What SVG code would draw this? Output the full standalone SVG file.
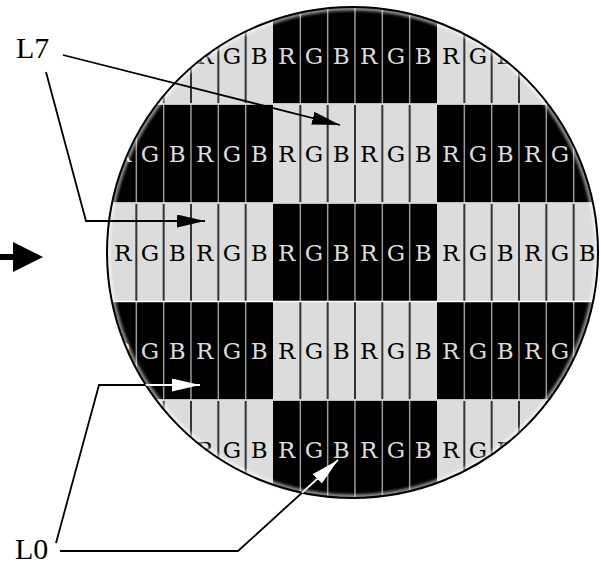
<svg xmlns="http://www.w3.org/2000/svg" width="601" height="567" viewBox="0 0 601 567">
  <style>
    .lt { fill: #dcdcdc; }
    .sepL { stroke: #333; stroke-width: 2; fill: none; }
    .sepD { stroke: #9a9a9a; stroke-width: 1.5; fill: none; }
    .gap { stroke: #fff; stroke-width: 1.3; }
    .cb { font-family: "DejaVu Serif", "Liberation Serif", serif; font-size: 23px; text-anchor: middle; }
    .onL { fill: #000; }
    .onD { fill: #dcdcdc; }
    .lbl { font-family: "Liberation Serif", "Times New Roman", serif; font-size: 30px; fill: #000; }
    .conn { stroke: #000; stroke-width: 1.8; fill: none; }
    .connW { stroke: #fff; stroke-width: 1.8; fill: none; }
  </style>
  <defs>
    <clipPath id="disk"><circle cx="352.5" cy="252.5" r="245.5"/></clipPath>
    <marker id="ahB" markerUnits="userSpaceOnUse" markerWidth="30" markerHeight="14" refX="28" refY="6.5" orient="auto">
      <path d="M0,0 L28,6.5 L0,13 Z" fill="#000"/>
    </marker>
    <marker id="ahW" markerUnits="userSpaceOnUse" markerWidth="30" markerHeight="14" refX="28" refY="6.5" orient="auto">
      <path d="M0,0 L28,6.5 L0,13 Z" fill="#fff"/>
    </marker>
    <filter id="soft" x="-10%" y="-10%" width="120%" height="120%">
      <feGaussianBlur stdDeviation="1.8"/>
    </filter>
  </defs>

  <rect width="601" height="567" fill="#fff"/>

  <g id="wafer">
    <g clip-path="url(#disk)">
      <rect x="100" y="0" width="501" height="500" fill="#000"/>
      <rect class="lt" x="100" y="0" width="173" height="103.5"/>
      <rect class="lt" x="437" y="0" width="164" height="103.5"/>
      <rect class="lt" x="273" y="104.5" width="164" height="98"/>
      <rect class="lt" x="100" y="203.5" width="173" height="97.5"/>
      <rect class="lt" x="437" y="203.5" width="164" height="97.5"/>
      <rect class="lt" x="273" y="302" width="164" height="97.5"/>
      <rect class="lt" x="100" y="400.5" width="173" height="100"/>
      <rect class="lt" x="437" y="400.5" width="164" height="100"/>

      <path class="sepL" d="M136.33,0V103.5M163.67,0V103.5M191,0V103.5M218.33,0V103.5M245.67,0V103.5M464.33,0V103.5M491.67,0V103.5M519,0V103.5M546.33,0V103.5M573.67,0V103.5
        M136.33,203.5V301M163.67,203.5V301M191,203.5V301M218.33,203.5V301M245.67,203.5V301M464.33,203.5V301M491.67,203.5V301M519,203.5V301M546.33,203.5V301M573.67,203.5V301
        M136.33,400.5V500M163.67,400.5V500M191,400.5V500M218.33,400.5V500M245.67,400.5V500M464.33,400.5V500M491.67,400.5V500M519,400.5V500M546.33,400.5V500M573.67,400.5V500
        M300.33,104.5V202.5M327.67,104.5V202.5M355,104.5V202.5M382.33,104.5V202.5M409.67,104.5V202.5
        M300.33,302V399.5M327.67,302V399.5M355,302V399.5M382.33,302V399.5M409.67,302V399.5"/>
      <path class="sepD" d="M300.33,0V103.5M327.67,0V103.5M355,0V103.5M382.33,0V103.5M409.67,0V103.5
        M300.33,203.5V301M327.67,203.5V301M355,203.5V301M382.33,203.5V301M409.67,203.5V301
        M300.33,400.5V500M327.67,400.5V500M355,400.5V500M382.33,400.5V500M409.67,400.5V500
        M136.33,104.5V202.5M163.67,104.5V202.5M191,104.5V202.5M218.33,104.5V202.5M245.67,104.5V202.5M464.33,104.5V202.5M491.67,104.5V202.5M519,104.5V202.5M546.33,104.5V202.5M573.67,104.5V202.5
        M136.33,302V399.5M163.67,302V399.5M191,302V399.5M218.33,302V399.5M245.67,302V399.5M464.33,302V399.5M491.67,302V399.5M519,302V399.5M546.33,302V399.5M573.67,302V399.5"/>

      <path class="gap" d="M100,104H601M100,203H601M100,301.5H601M100,400H601"/>

      <!-- row 0 -->
      <text class="cb onL" y="64" x="204.7 232 259.3">RGB</text>
      <text class="cb onD" y="64" x="286.7 314 341.3 368.7 396 423.3">RGBRGB</text>
      <text class="cb onL" y="64" x="450.7 478 505.3">RGB</text>
      <!-- row 1 -->
      <text class="cb onD" y="162" x="122.7 150 177.3 204.7 232 259.3">RGBRGB</text>
      <text class="cb onL" y="162" x="286.7 314 341.3 368.7 396 423.3">RGBRGB</text>
      <text class="cb onD" y="162" x="450.7 478 505.3 532.7 560 587.3">RGBRGB</text>
      <!-- row 2 -->
      <text class="cb onL" y="260.5" x="122.7 150 177.3 204.7 232 259.3">RGBRGB</text>
      <text class="cb onD" y="260.5" x="286.7 314 341.3 368.7 396 423.3">RGBRGB</text>
      <text class="cb onL" y="260.5" x="450.7 478 505.3 532.7 560 587.3">RGBRGB</text>
      <!-- row 3 -->
      <text class="cb onD" y="359" x="122.7 150 177.3 204.7 232 259.3">RGBRGB</text>
      <text class="cb onL" y="359" x="286.7 314 341.3 368.7 396 423.3">RGBRGB</text>
      <text class="cb onD" y="359" x="450.7 478 505.3 532.7 560 587.3">RGBRGB</text>
      <!-- row 4 -->
      <text class="cb onL" y="457.5" x="204.7 232 259.3">RGB</text>
      <text class="cb onD" y="457.5" x="286.7 314 341.3 368.7 396 423.3">RGBRGB</text>
      <text class="cb onL" y="457.5" x="450.7 478 505.3">RGB</text>

      <circle cx="352.5" cy="252.5" r="244" fill="none" stroke="#fff" stroke-width="4" opacity="0.6" filter="url(#soft)"/>
    </g>
    <circle cx="352.5" cy="252.5" r="245.5" fill="none" stroke="#000" stroke-width="2"/>
  </g>

  <g id="input-arrow">
    <rect x="0" y="254" width="15" height="6" fill="#000"/>
    <polygon points="13,242 43,257 13,272" fill="#000"/>
  </g>

  <g id="L7"><text class="lbl" x="16" y="58">L7</text></g>
  <g id="L0"><text class="lbl" x="15" y="559">L0</text></g>

  <g id="connectors">
    <line class="conn" x1="63" y1="55" x2="340" y2="125" marker-end="url(#ahB)"/>
    <polyline class="conn" points="46,72 86,221 205,221" marker-end="url(#ahB)"/>
    <polyline class="conn" points="56,543 99,385 200,385" marker-end="url(#ahW)"/>
    <polyline class="connW" points="99,385 200,385" clip-path="url(#disk)"/>
    <polyline class="conn" points="60,551 238,551 338,460" marker-end="url(#ahW)"/>
    <polyline class="connW" points="238,551 338,460" clip-path="url(#disk)"/>
  </g>
</svg>
